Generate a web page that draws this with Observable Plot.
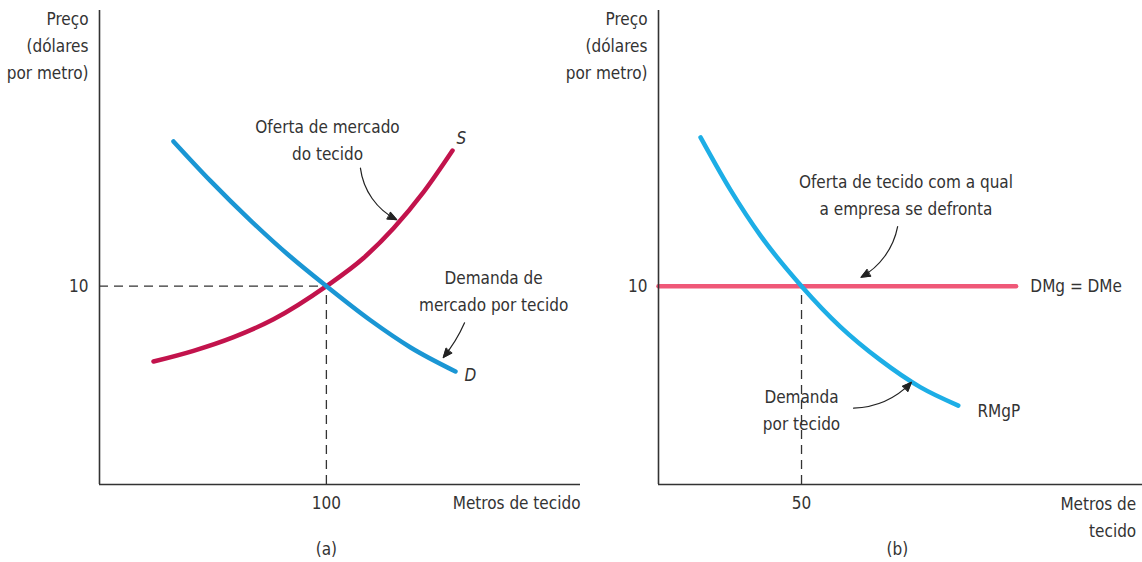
<!DOCTYPE html>
<html>
<head>
<meta charset="utf-8">
<script src="https://cdn.jsdelivr.net/npm/d3@7"></script>
<script src="https://cdn.jsdelivr.net/npm/@observablehq/plot@0.6"></script>
<style>
  html, body { margin: 0; padding: 0; background: #fff; }
  #wrap { position: relative; width: 1142px; height: 562px; overflow: hidden; }
  #a, #b { position: absolute; top: 0; }
  #a { left: 0; }
  #b { left: 560px; }
  svg { font-family: "Liberation Sans Narrow", "DejaVu Sans Condensed", "Roboto", sans-serif; }
</style>
</head>
<body>
<div id="wrap"><div id="a"></div><div id="b"></div></div>
<script>
// ---------- Panel (a): market ----------
const demandA = [[32.6, 17.3], [48.9, 15.31], [66.5, 13.32], [84.2, 11.48], [100, 10], [119.4, 8.28], [137.1, 6.91], [156.9, 5.7]];
const supplyA = [[23.8, 6.2], [41.4, 6.74], [59.1, 7.43], [76.7, 8.33], [100, 10], [116.4, 11.42], [129.6, 12.92], [142.8, 14.74], [155.6, 16.84]];
const eqA = {x: 100, y: 10};
const xTicksA = [{x: 100, label: "100"}];
const yTicksA = [{y: 10, label: "10"}];

// ---------- Panel (b): firm ----------
const demandB = [[14.7, 17.5], [25.2, 14.84], [35.6, 12.56], [50, 10], [63.6, 7.95], [77.6, 6.27], [91.5, 4.91], [104.8, 3.98]];
const supplyB = [[0, 10], [125, 10]];
const eqB = {x: 50, y: 10};
const xTicksB = [{x: 50, label: "50"}];
const yTicksB = [{y: 10, label: "10"}];

const ink = "#333";
const fs = 17;

function panel({width, marginLeft, marginRight, xmax, demand, demandColor, supply, supplyColor, eq, xTicks, yTicks, extra}) {
  return Plot.plot({
    width, height: 562,
    marginLeft, marginRight, marginTop: 10, marginBottom: 78,
    x: {domain: [0, xmax], axis: null},
    y: {domain: [0, 23.9], axis: null},
    style: {fontSize: fs + "px", color: ink, overflow: "visible"},
    marks: [
      Plot.ruleY([eq], {x1: 0, x2: "x", y: "y", stroke: ink, strokeWidth: 1.3, strokeDasharray: "9,6"}),
      Plot.ruleX([eq], {x: "x", y1: 0, y2: "y", stroke: ink, strokeWidth: 1.3, strokeDasharray: "9,6"}),
      Plot.line(supply, {x: d => d[0], y: d => d[1], stroke: supplyColor, strokeWidth: 4.5, curve: "monotone-x"}),
      Plot.line(demand, {x: d => d[0], y: d => d[1], stroke: demandColor, strokeWidth: 4.5, curve: "monotone-x"}),
      Plot.ruleX([0], {stroke: ink, strokeWidth: 1.6}),
      Plot.ruleY([0], {stroke: ink, strokeWidth: 1.6}),
      Plot.text(xTicks, {x: "x", y: 0, text: "label", dy: 19, fill: ink}),
      Plot.text(yTicks, {x: 0, y: "y", text: "label", dx: -11, textAnchor: "end", fill: ink}),
      Plot.text(["Preço\n(dólares\npor metro)"], {x: 0, y: 23.9, dx: -11, dy: -5, textAnchor: "end", lineAnchor: "top", lineHeight: 1.6, fill: ink}),
      ...extra
    ]
  });
}

const arrowOpts = {stroke: "#222", strokeWidth: 1.2, headLength: 12, headAngle: 45};

// Fill the arrow heads (solid triangles as in the reference)
function fillHeads(svg) {
  svg.querySelectorAll('g[aria-label="arrow"] path').forEach(p => {
    const d = p.getAttribute("d");
    const i = d.lastIndexOf("M");
    const nums = d.slice(i).match(/-?\d*\.?\d+(?:e-?\d+)?/g).map(Number);
    if (nums.length >= 6) {
      const tri = document.createElementNS("http://www.w3.org/2000/svg", "path");
      tri.setAttribute("d", `M${nums[0]},${nums[1]}L${nums[2]},${nums[3]}L${nums[4]},${nums[5]}Z`);
      tri.setAttribute("fill", "#222");
      tri.setAttribute("stroke", "#222");
      tri.setAttribute("stroke-width", "0.8");
      p.parentNode.appendChild(tri);
    }
  });
  return svg;
}

document.getElementById("a").append(fillHeads(panel({
  width: 600, marginLeft: 99, marginRight: 20, xmax: 212,
  demand: demandA, demandColor: "#1a96d4",
  supply: supplyA, supplyColor: "#c2134c",
  eq: eqA, xTicks: xTicksA, yTicks: yTicksA,
  extra: [
    Plot.text(["Metros de tecido"], {x: 212, y: 0, dy: 19, textAnchor: "end", fill: ink}),
    Plot.text(["(a)"], {x: 100, y: 0, dy: 65, fill: ink}),
    Plot.text(["Oferta de mercado\ndo tecido"], {x: 100.5, y: 17.46, textAnchor: "middle", lineHeight: 1.55, fill: ink}),
    Plot.text(["S"], {x: 159.5, y: 17.45, fontStyle: "italic", fill: ink}),
    Plot.text(["Demanda de\nmercado por tecido"], {x: 173.7, y: 9.85, textAnchor: "middle", lineHeight: 1.55, fill: ink}),
    Plot.text(["D"], {x: 163.5, y: 5.5, fontStyle: "italic", fill: ink}),
    Plot.arrow([{x1: 115, y1: 15.95, x2: 131, y2: 13.35}], {x1: "x1", y1: "y1", x2: "x2", y2: "y2", bend: -28, ...arrowOpts}),
    Plot.arrow([{x1: 160.9, y1: 8.15, x2: 151.5, y2: 6.4}], {x1: "x1", y1: "y1", x2: "x2", y2: "y2", bend: 8, ...arrowOpts})
  ]
})));

document.getElementById("b").append(fillHeads(panel({
  width: 582, marginLeft: 98, marginRight: 0, xmax: 169.2,
  demand: demandB, demandColor: "#1daee6",
  supply: supplyB, supplyColor: "#ef5878",
  eq: eqB, xTicks: xTicksB, yTicks: yTicksB,
  extra: [
    Plot.text(["Metros de\ntecido"], {x: 167, y: 0, dy: 30, textAnchor: "end", lineAnchor: "middle", lineHeight: 1.6, fill: ink}),
    Plot.text(["(b)"], {x: 83.5, y: 0, dy: 65, fill: ink}),
    Plot.text(["Oferta de tecido com a qual\na empresa se defronta"], {x: 86.5, y: 14.7, textAnchor: "middle", lineHeight: 1.55, fill: ink}),
    Plot.text(["DMg = DMe"], {x: 130, y: 10, textAnchor: "start", fill: ink}),
    Plot.text(["RMgP"], {x: 111.5, y: 3.7, textAnchor: "start", fill: ink}),
    Plot.text(["Demanda\npor tecido"], {x: 50, y: 3.85, textAnchor: "middle", lineHeight: 1.55, fill: ink}),
    Plot.arrow([{x1: 83.6, y1: 13.0, x2: 70.8, y2: 10.45}], {x1: "x1", y1: "y1", x2: "x2", y2: "y2", bend: 25, ...arrowOpts}),
    Plot.arrow([{x1: 68.2, y1: 3.85, x2: 88.4, y2: 5.15}], {x1: "x1", y1: "y1", x2: "x2", y2: "y2", bend: -22, ...arrowOpts})
  ]
})));
</script>
</body>
</html>
